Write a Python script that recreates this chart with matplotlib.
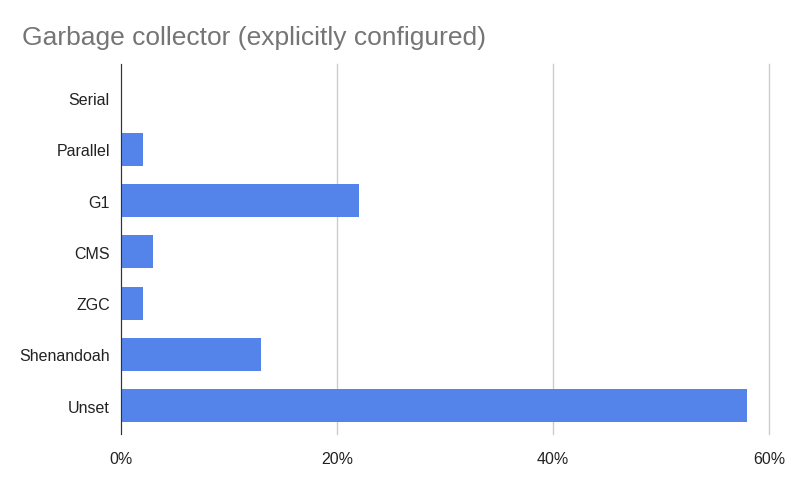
import matplotlib
matplotlib.use("Agg")
import matplotlib.pyplot as plt
from matplotlib.ticker import FuncFormatter

# data (percent)
collectors = ["Serial", "Parallel", "G1", "CMS", "ZGC", "Shenandoah", "Unset"]
shares = [0, 2, 22, 3, 2, 13, 58]

plt.rcParams["font.family"] = ["Liberation Sans", "DejaVu Sans"]

fig = plt.figure(figsize=(7.94, 4.89), dpi=100)
ax = fig.add_axes([121/794, 1 - 435/489, (769 - 121)/794, (435 - 65)/489])

ypos = list(range(len(collectors)))
ax.barh(ypos, shares, height=0.64, color="#5484e9", zorder=3)
ax.set_yticks(ypos)
ax.set_yticklabels(collectors)
ax.set_ylim(len(collectors) - 0.45, -0.66)

ax.set_xlim(0, 60)
ax.set_xticks([0, 20, 40, 60])
ax.xaxis.set_major_formatter(FuncFormatter(lambda v, p: f"{v:.0f}%"))
ax.grid(axis="x", color="#cccccc", linewidth=1, zorder=0)
for gl in ax.get_xgridlines():
    gl.set_clip_on(False)

for s in ["top", "right", "bottom"]:
    ax.spines[s].set_visible(False)
ax.spines["left"].set_color("#333333")
ax.spines["left"].set_zorder(4)
ax.tick_params(length=0, labelsize=11.5, colors="#222222")
ax.tick_params(axis="x", pad=12)
ax.tick_params(axis="y", pad=8)

fig.text(22/794, 1 - 38/489, "Garbage collector (explicitly configured)",
         fontsize=19, color="#757575", va="center", ha="left")

fig.savefig("out.png", dpi=100)
